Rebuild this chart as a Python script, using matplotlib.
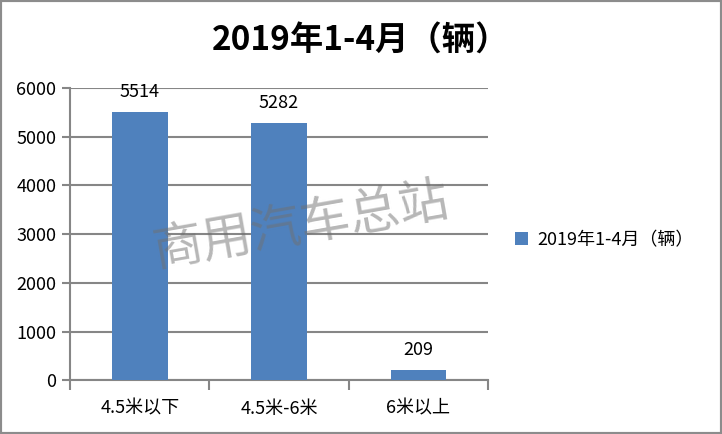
import matplotlib.pyplot as plt
from matplotlib.patches import Rectangle

plt.rcParams['font.family'] = ['Noto Sans CJK SC', 'DejaVu Sans']

categories = ['4.5米以下', '4.5米-6米', '6米以上']
values = [5514, 5282, 209]
series_name = '2019年1-4月（辆）'
title = '2019年1-4月（辆）'
yticks = [0, 1000, 2000, 3000, 4000, 5000, 6000]

bar_color = '#4F81BD'
grid_color = '#868686'

fig = plt.figure(figsize=(7.22, 4.34), dpi=100)
ax = fig.add_axes([0.097, 0.124, 0.579, 0.673])

x = list(range(len(categories)))
bars = ax.bar(x, values, width=0.4, color=bar_color, label=series_name, zorder=3)

for xi, v in zip(x, values):
    ax.text(xi, v + 230, str(v), ha='center', va='bottom', fontsize=13)

ax.set_xlim(-0.5, len(categories) - 0.5)
ax.set_ylim(0, 6000)
ax.set_yticks(yticks)
ax.set_yticklabels([str(t) for t in yticks], fontsize=13)
ax.set_xticks(x)
ax.set_xticklabels(categories, fontsize=13)
ax.tick_params(axis='x', length=0, pad=14)
ax.tick_params(axis='y', length=6, color=grid_color, width=1.5, pad=4)

# category separators below the x axis
ax.set_xticks([-0.5, 0.5, 1.5, 2.5], minor=True)
ax.tick_params(axis='x', which='minor', length=7, color=grid_color, width=1.5)

ax.grid(axis='y', color=grid_color, linewidth=1.5, zorder=0)
for side in ['top', 'right']:
    ax.spines[side].set_visible(False)
for side in ['left', 'bottom']:
    ax.spines[side].set_color(grid_color)
    ax.spines[side].set_linewidth(1.5)

fig.text(0.499, 0.905, title, ha='center', va='center', fontsize=24, fontweight='bold')

ax.legend(loc='center left', bbox_to_anchor=(1.025, 0.48), frameon=False,
          fontsize=13, handlelength=0.75, handleheight=0.75, handletextpad=0.5)

# watermark
fig.text(0.418, 0.48, '商用汽车总站', ha='center', va='center', fontsize=36,
         color='#707070', alpha=0.5, rotation=10, fontweight='light', zorder=10)

fig.patches.append(Rectangle((0, 0), 1, 1, transform=fig.transFigure,
                             fill=False, edgecolor='#8c8c8c', linewidth=3))

fig.savefig('out.png', dpi=100)
